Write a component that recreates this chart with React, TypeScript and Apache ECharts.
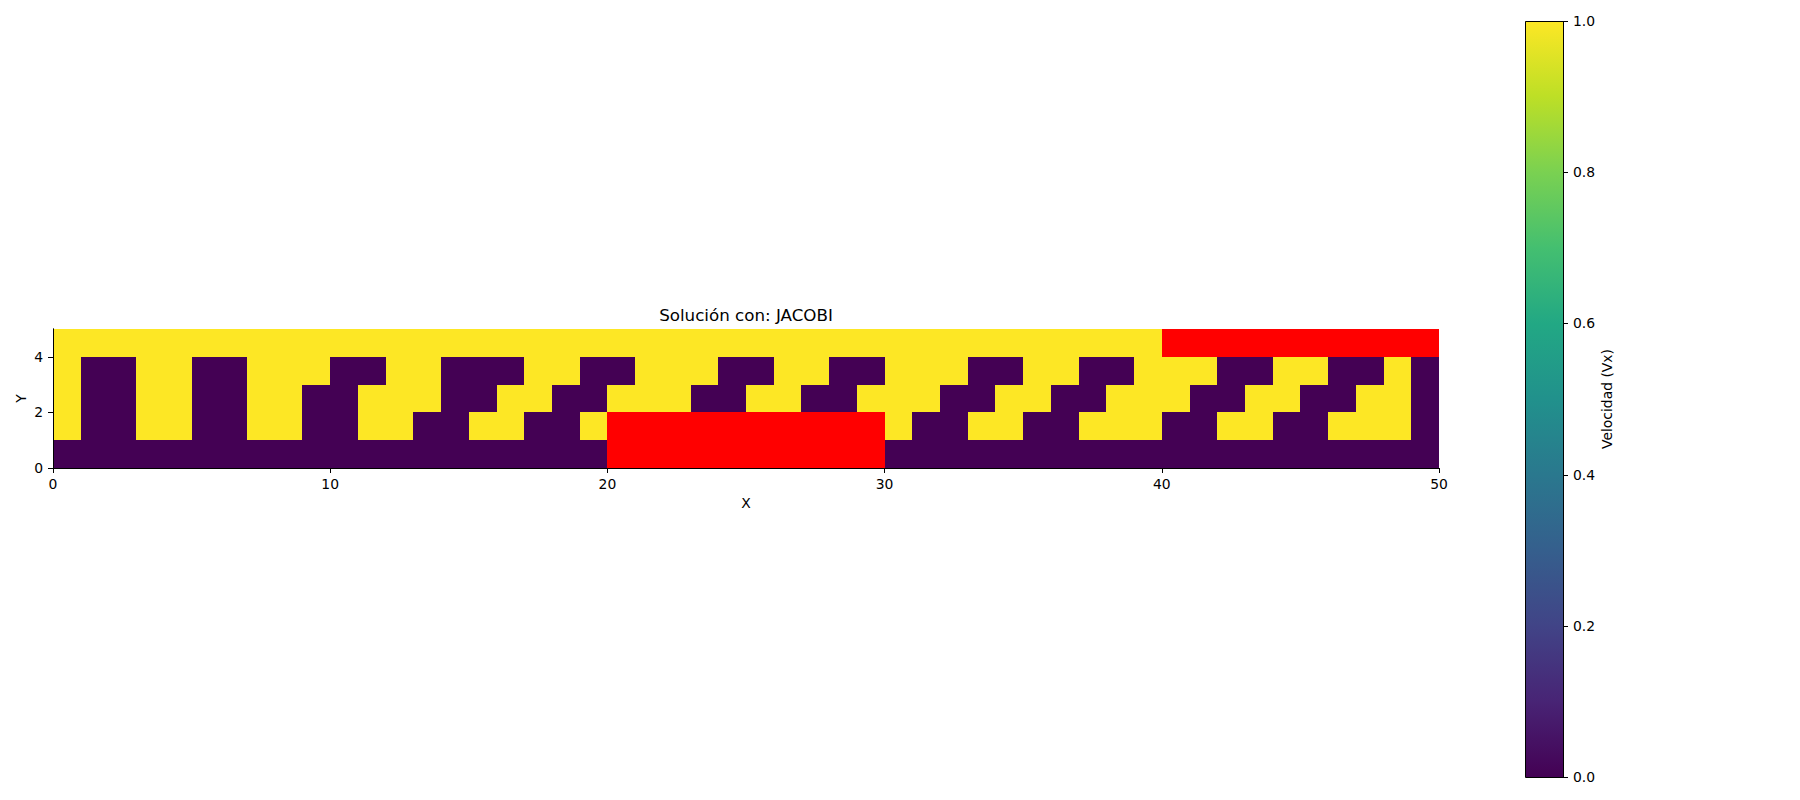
import React, { useEffect, useRef } from "react";
import * as echarts from "echarts";

const N = null;

const titleText = "Solución con: JACOBI";
const xName = "X";
const yName = "Y";
const cbName = "Velocidad (Vx)";

const xTicks = [0, 10, 20, 30, 40, 50];
const yTicks = [0, 2, 4];
const cbTicks = [0, 0.2, 0.4, 0.6, 0.8, 1.0];

// Vx field, one array per row (y = 0 at bottom); null = obstacle (drawn red)
const vxRow0 = [
  0, 0, 0, 0, 0, 0, 0, 0, 0, 0, 0, 0, 0, 0, 0, 0, 0, 0, 0, 0,
  N, N, N, N, N, N, N, N, N, N,
  0, 0, 0, 0, 0, 0, 0, 0, 0, 0, 0, 0, 0, 0, 0, 0, 0, 0, 0, 0,
];
const vxRow1 = [
  1, 0, 0, 1, 1, 0, 0, 1, 1, 0,
  0, 1, 1, 0, 0, 1, 1, 0, 0, 1,
  N, N, N, N, N, N, N, N, N, N,
  1, 0, 0, 1, 1, 0, 0, 1, 1, 1,
  0, 0, 1, 1, 0, 0, 1, 1, 1, 0,
];
const vxRow2 = [
  1, 0, 0, 1, 1, 0, 0, 1, 1, 0,
  0, 1, 1, 1, 0, 0, 1, 1, 0, 0,
  1, 1, 1, 0, 0, 1, 1, 0, 0, 1,
  1, 1, 0, 0, 1, 1, 0, 0, 1, 1,
  1, 0, 0, 1, 1, 0, 0, 1, 1, 0,
];
const vxRow3 = [
  1, 0, 0, 1, 1, 0, 0, 1, 1, 1,
  0, 0, 1, 1, 0, 0, 0, 1, 1, 0,
  0, 1, 1, 1, 0, 0, 1, 1, 0, 0,
  1, 1, 1, 0, 0, 1, 1, 0, 0, 1,
  1, 1, 0, 0, 1, 1, 0, 0, 1, 0,
];
const vxRow4 = [
  1, 1, 1, 1, 1, 1, 1, 1, 1, 1,
  1, 1, 1, 1, 1, 1, 1, 1, 1, 1,
  1, 1, 1, 1, 1, 1, 1, 1, 1, 1,
  1, 1, 1, 1, 1, 1, 1, 1, 1, 1,
  N, N, N, N, N, N, N, N, N, N,
];
const vxRows = [vxRow0, vxRow1, vxRow2, vxRow3, vxRow4];

const viridisStops = [
  "#440154", "#482475", "#414487", "#355f8d", "#2a788e", "#21918c",
  "#22a884", "#44bf70", "#7ad151", "#bddf26", "#fde725",
];
const obstacleColor = "#ff0000";
const FONT = "DejaVu Sans";

function hexToRgb(h: string) {
  return [parseInt(h.slice(1, 3), 16), parseInt(h.slice(3, 5), 16), parseInt(h.slice(5, 7), 16)];
}
function viridis(t: number) {
  const c = Math.max(0, Math.min(1, t)) * (viridisStops.length - 1);
  const i = Math.min(Math.floor(c), viridisStops.length - 2);
  const f = c - i;
  const a = hexToRgb(viridisStops[i]);
  const b = hexToRgb(viridisStops[i + 1]);
  const m = a.map((v, k) => Math.round(v + (b[k] - v) * f));
  return `rgb(${m[0]},${m[1]},${m[2]})`;
}

export default function App() {
  const ref = useRef<HTMLDivElement>(null);
  useEffect(() => {
    const chart = echarts.init(ref.current as HTMLDivElement, null, { renderer: "svg" });
    const cells: number[][] = [];
    vxRows.forEach((row, y) =>
      row.forEach((v, x) => cells.push([x, y, v == null ? 0 : v, v == null ? 1 : 0]))
    );
    const nx = vxRow0.length;
    const ny = vxRows.length;
    const axisLine = { show: true, lineStyle: { color: "#000", width: 1 } };
    const labelStyle = { color: "#000", fontSize: 13.9, fontFamily: FONT };
    const nameStyle = { color: "#000", fontSize: 13.9, fontFamily: FONT };

    const option: any = {
      animation: false,
      backgroundColor: "#fff",
      grid: [
        { left: 53, top: 329, width: 1386, height: 139 },
        { left: 1525, top: 21, width: 38, height: 756 },
      ],
      graphic: [
        {
          type: "text",
          x: 746,
          y: 314.8,
          style: {
            text: titleText,
            textAlign: "center",
            textVerticalAlign: "middle",
            fill: "#000",
            fontSize: 16.7,
            fontFamily: FONT,
          },
        },
      ],
      xAxis: [
        {
          type: "value",
          gridIndex: 0,
          min: 0,
          max: nx,
          interval: 10,
          position: "bottom",
          z: 10,
          axisLine,
          axisTick: { show: true, length: 5, customValues: xTicks, lineStyle: { color: "#000", width: 1 } },
          axisLabel: { ...labelStyle, margin: 9, customValues: xTicks },
          splitLine: { show: false },
          name: xName,
          nameLocation: "middle",
          nameGap: 28,
          nameMoveOverlap: false,
          nameTextStyle: nameStyle,
        },
        {
          type: "value",
          gridIndex: 0,
          min: 0,
          max: nx,
          position: "top",
          z: 10,
          axisLine,
          axisTick: { show: false },
          axisLabel: { show: false },
          splitLine: { show: false },
        },
        {
          type: "value",
          gridIndex: 1,
          min: 0,
          max: 1,
          show: false,
        },
      ],
      yAxis: [
        {
          type: "value",
          gridIndex: 0,
          min: 0,
          max: ny,
          interval: 1,
          position: "left",
          z: 10,
          axisLine,
          axisTick: { show: true, length: 5, customValues: yTicks, lineStyle: { color: "#000", width: 1 } },
          axisLabel: { ...labelStyle, margin: 10, customValues: yTicks },
          splitLine: { show: false },
          name: yName,
          nameLocation: "middle",
          nameGap: 25,
          nameRotate: 90,
          nameMoveOverlap: false,
          nameTextStyle: nameStyle,
        },
        {
          type: "value",
          gridIndex: 0,
          min: 0,
          max: ny,
          position: "right",
          z: 10,
          axisLine,
          axisTick: { show: false },
          axisLabel: { show: false },
          splitLine: { show: false },
        },
        {
          type: "value",
          gridIndex: 1,
          min: 0,
          max: 1,
          interval: 0.2,
          position: "right",
          z: 10,
          axisLine: { show: false },
          axisTick: { show: false },
          axisLabel: {
            ...labelStyle,
            margin: 10,
            customValues: cbTicks,
            formatter: (v: number) => v.toFixed(1),
          },
          splitLine: { show: false },
          splitArea: { show: false },
          name: cbName,
          nameLocation: "middle",
          nameGap: 37,
          nameRotate: 90,
          nameMoveOverlap: false,
          nameTextStyle: nameStyle,
        },
      ],
      series: [
        {
          type: "custom",
          xAxisIndex: 0,
          yAxisIndex: 0,
          silent: true,
          data: cells,
          encode: { x: 0, y: 1 },
          renderItem: (_p: any, api: any) => {
            const x = api.value(0);
            const y = api.value(1);
            const v = api.value(2);
            const obs = api.value(3);
            const p0 = api.coord([x, y + 1]);
            const p1 = api.coord([x + 1, y]);
            const l = Math.round(p0[0]);
            const t = Math.round(p0[1]);
            const r = Math.round(p1[0]);
            const b = Math.round(p1[1]);
            return {
              type: "rect",
              shape: { x: l, y: t, width: r - l, height: b - t },
              style: { fill: obs ? obstacleColor : viridis(v), stroke: null },
            };
          },
        },
        {
          type: "custom",
          xAxisIndex: 2,
          yAxisIndex: 2,
          silent: true,
          data: [[0, 0]],
          encode: { x: 0, y: 1 },
          renderItem: (_p: any, api: any) => {
            const p0 = api.coord([0, 1]);
            const p1 = api.coord([1, 0]);
            const l = Math.round(p0[0]);
            const t = Math.round(p0[1]);
            const r = Math.round(p1[0]);
            const b = Math.round(p1[1]);
            const stops = viridisStops.map((c, i) => ({ offset: i / (viridisStops.length - 1), color: c }));
            const ticks = cbTicks.map((v) => {
              const ty = Math.round(api.coord([1, v])[1]) + 0.5;
              return {
                type: "line",
                shape: { x1: r, y1: ty, x2: r + 5, y2: ty },
                style: { stroke: "#000", lineWidth: 1 },
              };
            });
            return {
              type: "group",
              children: [
                {
                  type: "rect",
                  shape: { x: l, y: t, width: r - l, height: b - t },
                  style: { fill: new echarts.graphic.LinearGradient(0, 1, 0, 0, stops) },
                },
                {
                  type: "rect",
                  shape: { x: l + 0.5, y: t + 0.5, width: r - l, height: b - t },
                  style: { fill: "none", stroke: "#000", lineWidth: 1 },
                },
                ...ticks,
              ],
            };
          },
        },
      ],
    };
    chart.setOption(option);
    return () => chart.dispose();
  }, []);
  return (
    <div
      ref={ref}
      style={{ position: "fixed", left: 0, top: 0, width: 1800, height: 800 }}
    />
  );
}
